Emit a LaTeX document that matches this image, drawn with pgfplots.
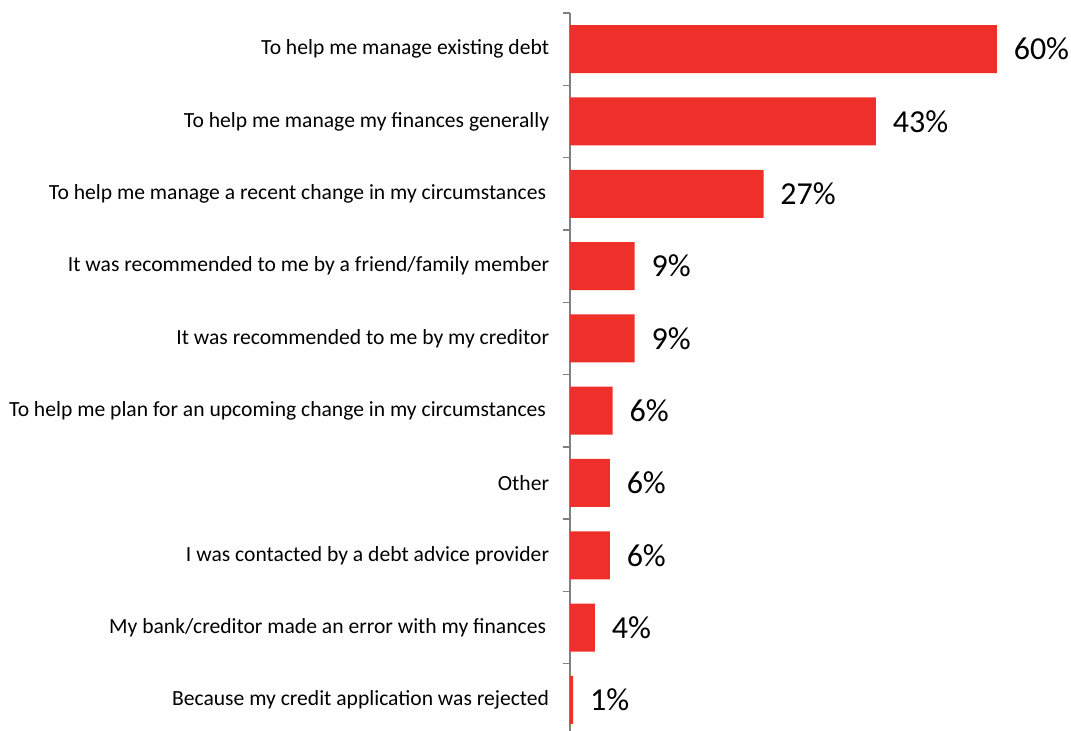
\documentclass[border=0pt]{standalone}
\usepackage{pgfplots}
\pgfplotsset{compat=1.18}
\usepackage{fontspec}
\setmainfont{Carlito}
\definecolor{barred}{RGB}{238,47,42}
\begin{document}
\begin{tikzpicture}[x=1pt,y=1pt]
\begin{axis}[
  scale only axis,
  width=373.5pt, height=538.5pt,
  xmin=0, xmax=70,
  ymin=-0.5, ymax=9.43,
  y dir=reverse,
  axis x line=none,
  axis y line*=left,
  axis line style={gray, line width=1pt},
  ytick={0,...,9},
  yticklabels={
    To help me manage existing debt,
    To help me manage my finances generally,
    To help me manage a recent change in my circumstances\rule{2.3pt}{0pt},
    It was recommended to me by a friend/family member,
    It was recommended to me by my creditor,
    To help me plan for an upcoming change in my circumstances\rule{2.3pt}{0pt},
    Other,
    I was contacted by a debt advice provider,
    My bank/creditor made an error with my finances\rule{2.3pt}{0pt},
    Because my credit application was rejected},
  major tick length=0pt,
  minor ytick={-0.5,0.5,...,8.5},
  minor tick length=5.25pt,
  tick align=outside,
  tick style={gray, line width=1pt},
  yticklabel style={font=\fontsize{16.2}{18}\selectfont, anchor=east, inner sep=0pt, xshift=-15.5pt},
  xbar, bar width=36pt,
  bar shift=0pt,
  /pgf/number format/assume math mode=true,
  point meta=explicit,
  nodes near coords={\pgfmathprintnumber{\pgfplotspointmeta}\%},
  nodes near coords style={font=\fontsize{24}{26}\selectfont, anchor=west, inner sep=0pt, xshift=12.5pt},
  clip=false,
]
\addplot[fill=barred, draw=none] coordinates {
 (60,0) [60] (43,1) [43] (27.2,2) [27] (9.1,3) [9] (9.1,4) [9] (6.0,5) [6]
 (5.6,6) [6] (5.6,7) [6] (3.5,8) [4] (0.45,9) [1]
};
\coordinate (tl) at (rel axis cs:0,1);
\coordinate (br) at (rel axis cs:1,0);
\end{axis}
\pgfresetboundingbox
\path ([xshift=-427.5pt, yshift=9.75pt]tl) rectangle ([xshift=2.25pt]br);
\end{tikzpicture}
\end{document}
